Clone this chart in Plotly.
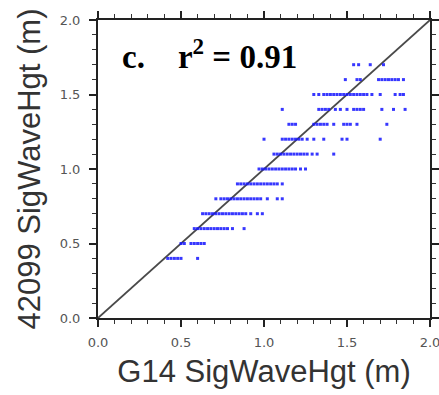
import plotly.graph_objects as go

# Observed values (m), grouped by buoy 42099 row value
row_y = [0.4, 0.5, 0.6, 0.7, 0.8, 0.9, 1.0, 1.1, 1.2, 1.3, 1.4, 1.5, 1.6, 1.7]
row_x = [
    [0.42, 0.44, 0.46, 0.48, 0.50, 0.60],
    [0.50, 0.52, 0.56, 0.58, 0.60, 0.62, 0.64],
    [0.58, 0.60, 0.62, 0.64, 0.66, 0.68, 0.70, 0.72, 0.74, 0.76, 0.78, 0.81, 0.88],
    [0.63, 0.65, 0.67, 0.69, 0.71, 0.73, 0.75, 0.77, 0.79, 0.81, 0.83, 0.85, 0.87, 0.89, 0.92, 0.96, 0.99],
    [0.71, 0.74, 0.76, 0.78, 0.80, 0.82, 0.84, 0.86, 0.88, 0.90, 0.92, 0.94, 0.96, 0.98, 1.02, 1.08, 1.11],
    [0.84, 0.86, 0.88, 0.90, 0.92, 0.94, 0.96, 0.98, 1.00, 1.02, 1.04, 1.06, 1.08, 1.11],
    [0.97, 0.99, 1.01, 1.03, 1.05, 1.07, 1.09, 1.11, 1.13, 1.15, 1.17, 1.19, 1.22, 1.25],
    [1.06, 1.08, 1.10, 1.12, 1.14, 1.16, 1.18, 1.20, 1.22, 1.24, 1.26, 1.29, 1.32, 1.42],
    [1.00, 1.11, 1.13, 1.15, 1.17, 1.19, 1.21, 1.23, 1.26, 1.30, 1.36, 1.47, 1.50, 1.70],
    [1.15, 1.17, 1.19, 1.30, 1.32, 1.34, 1.36, 1.38, 1.42, 1.48, 1.50, 1.52, 1.56, 1.74],
    [1.11, 1.33, 1.35, 1.37, 1.39, 1.43, 1.46, 1.50, 1.54, 1.56, 1.58, 1.60, 1.71, 1.78, 1.85],
    [1.30, 1.33, 1.36, 1.38, 1.40, 1.42, 1.44, 1.46, 1.48, 1.50, 1.52, 1.54, 1.56, 1.58, 1.60, 1.62, 1.65, 1.70, 1.79, 1.82, 1.84],
    [1.49, 1.56, 1.58, 1.69, 1.71, 1.73, 1.75, 1.77, 1.79, 1.81, 1.84],
    [1.54, 1.57, 1.64, 1.72],
]
diag = [0.0, 2.0]
x_ticks = [0.0, 0.5, 1.0, 1.5, 2.0]
tick_text = ["0.0", "0.5", "1.0", "1.5", "2.0"]

xs, ys = [], []
for yv, xl in zip(row_y, row_x):
    for xv in xl:
        xs.append(xv)
        ys.append(yv)

fig = go.Figure()
fig.add_trace(go.Scatter(x=diag, y=diag, mode="lines",
                         line=dict(color="#4a4a4a", width=1.8), hoverinfo="skip"))
fig.add_trace(go.Scatter(x=xs, y=ys, mode="markers",
                         marker=dict(symbol="square", size=3, color="rgba(20,20,255,0.85)",
                                     line=dict(width=0))))

axis_common = dict(range=[0, 2], tickvals=x_ticks, ticktext=tick_text, automargin=False,
                   ticklabeloverflow="allow",
                   showgrid=False, zeroline=False, showline=True, linecolor="#222",
                   linewidth=2, mirror="ticks", ticks="outside", ticklen=7, tickwidth=1.5,
                   tickcolor="#222",
                   minor=dict(ticks="outside", dtick=0.1, ticklen=4, tickwidth=1, tickcolor="#333"),
                   tickfont=dict(family="DejaVu Sans", size=13, color="#555555"),
                   title_font=dict(family="Liberation Sans", size=31, color="#333333"))

fig.update_layout(
    width=439, height=395,
    margin=dict(l=98, r=9, t=20, b=77),
    paper_bgcolor="white", plot_bgcolor="white",
    showlegend=False,
    xaxis=dict(**axis_common, ticklabelstandoff=4,
               title=dict(text="G14 SigWaveHgt (m)", standoff=12)),
    yaxis=dict(**axis_common, ticklabelstandoff=6,
               title=dict(text="42099 SigWaveHgt (m)", standoff=10)),
)
fig.add_annotation(x=0.13, y=1.77, xref="x", yref="y", xanchor="left", yanchor="middle",
                   text="<b>c.    r<sup>2</sup> = 0.91</b>", showarrow=False,
                   font=dict(family="Liberation Serif", size=33, color="black"))
fig.write_html("out.html")
